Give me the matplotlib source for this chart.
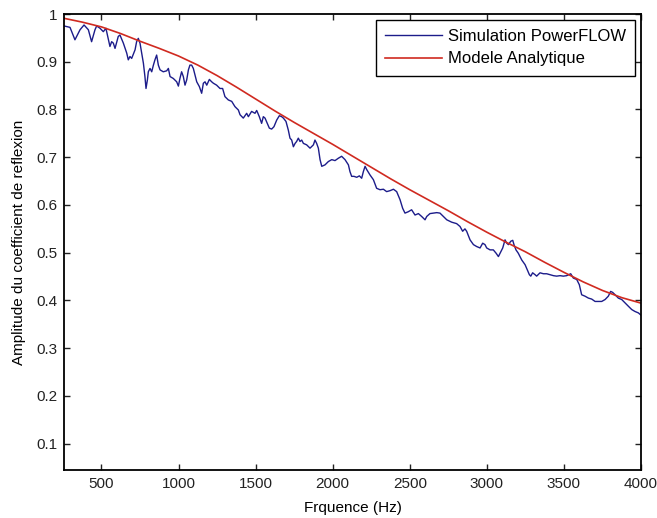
import matplotlib
matplotlib.use("Agg")
import matplotlib.pyplot as plt

plt.rcParams["font.family"] = ["Liberation Sans", "DejaVu Sans"]

# Simulation PowerFLOW (frequency in Hz, amplitude)
sim_freq = [
    257, 296, 328, 361, 387, 415, 436, 458, 469, 491, 512, 529, 545, 555, 566,
    577, 588, 609, 620, 642, 664, 674, 685, 696, 718, 728, 739, 750, 761, 772,
    782, 789, 798, 804, 815, 826, 837, 847, 858, 869, 880, 901, 923, 934, 945,
    966, 988, 999, 1009, 1020, 1031, 1042, 1053, 1064, 1074, 1085, 1096, 1107,
    1118, 1135, 1150, 1161, 1172, 1183, 1200, 1215, 1226, 1247, 1269, 1286,
    1301, 1323, 1345, 1366, 1388, 1399, 1420, 1431, 1442, 1453, 1474, 1496,
    1507, 1524, 1539, 1550, 1561, 1576, 1589, 1604, 1619, 1637, 1654, 1669,
    1680, 1697, 1712, 1723, 1734, 1745, 1756, 1766, 1777, 1788, 1799, 1810,
    1831, 1853, 1875, 1885, 1896, 1907, 1918, 1929, 1950, 1972, 1994, 2015,
    2037, 2058, 2080, 2102, 2112, 2123, 2138, 2156, 2173, 2188, 2199, 2210,
    2221, 2242, 2264, 2285, 2307, 2329, 2350, 2372, 2394, 2415, 2437, 2454,
    2469, 2491, 2512, 2534, 2556, 2577, 2599, 2610, 2631, 2653, 2675, 2696,
    2718, 2740, 2772, 2804, 2826, 2843, 2858, 2869, 2891, 2913, 2934, 2956,
    2973, 2988, 2999, 3021, 3042, 3060, 3075, 3086, 3103, 3118, 3129, 3140,
    3155, 3168, 3176, 3189, 3204, 3226, 3248, 3263, 3276, 3285, 3297, 3313,
    3323, 3345, 3367, 3388, 3410, 3432, 3453, 3475, 3496, 3518, 3544, 3561,
    3583, 3600, 3615, 3637, 3659, 3680, 3702, 3724, 3745, 3767, 3788, 3803,
    3816, 3832, 3853, 3875, 3896, 3918, 3940, 3961, 3983, 4005,
]
sim_amp = [
    0.975, 0.972, 0.946, 0.967, 0.977, 0.967, 0.942, 0.967, 0.975, 0.970,
    0.963, 0.970, 0.946, 0.932, 0.942, 0.939, 0.928, 0.953, 0.956, 0.939,
    0.918, 0.904, 0.911, 0.907, 0.925, 0.942, 0.949, 0.939, 0.918, 0.897,
    0.869, 0.844, 0.862, 0.879, 0.886, 0.879, 0.893, 0.904, 0.914, 0.893,
    0.883, 0.879, 0.881, 0.886, 0.869, 0.865, 0.858, 0.849, 0.865, 0.879,
    0.869, 0.851, 0.862, 0.883, 0.893, 0.893, 0.886, 0.872, 0.858, 0.848,
    0.834, 0.855, 0.858, 0.851, 0.863, 0.858, 0.855, 0.851, 0.844, 0.844,
    0.827, 0.820, 0.817, 0.806, 0.799, 0.789, 0.782, 0.787, 0.792, 0.785,
    0.796, 0.792, 0.798, 0.785, 0.771, 0.785, 0.782, 0.771, 0.761, 0.759,
    0.764, 0.778, 0.787, 0.785, 0.782, 0.775, 0.757, 0.740, 0.736, 0.722,
    0.729, 0.733, 0.740, 0.733, 0.736, 0.729, 0.726, 0.719, 0.726, 0.736,
    0.729, 0.719, 0.695, 0.681, 0.684, 0.691, 0.695, 0.693, 0.698, 0.702,
    0.695, 0.684, 0.670, 0.660, 0.660, 0.658, 0.661, 0.656, 0.670, 0.681,
    0.674, 0.663, 0.653, 0.635, 0.632, 0.633, 0.628, 0.630, 0.633, 0.628,
    0.611, 0.593, 0.583, 0.586, 0.590, 0.579, 0.582, 0.576, 0.569, 0.576,
    0.582, 0.583, 0.584, 0.583, 0.576, 0.569, 0.564, 0.561, 0.555, 0.545,
    0.550, 0.545, 0.527, 0.517, 0.513, 0.510, 0.520, 0.517, 0.510, 0.506,
    0.506, 0.499, 0.492, 0.499, 0.510, 0.527, 0.520, 0.517, 0.524, 0.526,
    0.517, 0.506, 0.499, 0.485, 0.475, 0.464, 0.454, 0.451, 0.458, 0.454,
    0.451, 0.458, 0.456, 0.456, 0.454, 0.452, 0.451, 0.452, 0.451, 0.452,
    0.456, 0.447, 0.444, 0.433, 0.412, 0.409, 0.405, 0.403, 0.398, 0.398,
    0.398, 0.402, 0.409, 0.419, 0.417, 0.412, 0.405, 0.402, 0.395, 0.388,
    0.381, 0.377, 0.374, 0.368,
]

# Modele analytique
model_freq = [257, 375, 500, 625, 750, 875, 1000, 1125, 1250, 1375, 1500,
              1625, 1750, 1875, 2000, 2125, 2250, 2375, 2500, 2625, 2750,
              2875, 3000, 3125, 3250, 3375, 3500, 3625, 3750, 3875, 4005]
model_amp = [0.991, 0.983, 0.973, 0.959, 0.943, 0.928, 0.912, 0.893, 0.871,
             0.847, 0.822, 0.797, 0.773, 0.750, 0.727, 0.703, 0.679, 0.655,
             0.632, 0.610, 0.588, 0.565, 0.543, 0.522, 0.502, 0.480, 0.459,
             0.439, 0.421, 0.406, 0.394]

x_ticks = [500, 1000, 1500, 2000, 2500, 3000, 3500, 4000]
y_ticks = [0.1, 0.2, 0.3, 0.4, 0.5, 0.6, 0.7, 0.8, 0.9, 1.0]
y_labels = ["0.1", "0.2", "0.3", "0.4", "0.5", "0.6", "0.7", "0.8", "0.9", "1"]

fig = plt.figure(figsize=(6.57, 5.18), dpi=100)
ax = fig.add_axes([64 / 657, 1 - 470 / 518, 577 / 657, 456 / 518])

ax.plot(sim_freq, sim_amp, color="#1c1c8a", linewidth=1.0,
        label="Simulation PowerFLOW")
ax.plot(model_freq, model_amp, color="#d02a20", linewidth=1.2,
        label="Modele Analytique")

ax.set_xlim(257, 4000)
ax.set_ylim(0.045, 1.0)
ax.set_xticks(x_ticks)
ax.set_yticks(y_ticks)
ax.set_yticklabels(y_labels)
ax.tick_params(direction="in", top=True, right=True, length=4, width=1,
               labelsize=11, colors="#222222", pad=5)
for s in ax.spines.values():
    s.set_linewidth(1.3)

ax.set_xlabel("Frquence (Hz)", fontsize=11, labelpad=7)
ax.set_ylabel("Amplitude du coefficient de reflexion", fontsize=11,
              labelpad=7)

leg = ax.legend(loc="upper right", fontsize=12, fancybox=False,
                edgecolor="black", framealpha=1, borderaxespad=0.35,
                handlelength=3.4, handletextpad=0.35, borderpad=0.55,
                labelspacing=0.45)
leg.get_frame().set_linewidth(1.0)

fig.savefig("out.png", dpi=100)
